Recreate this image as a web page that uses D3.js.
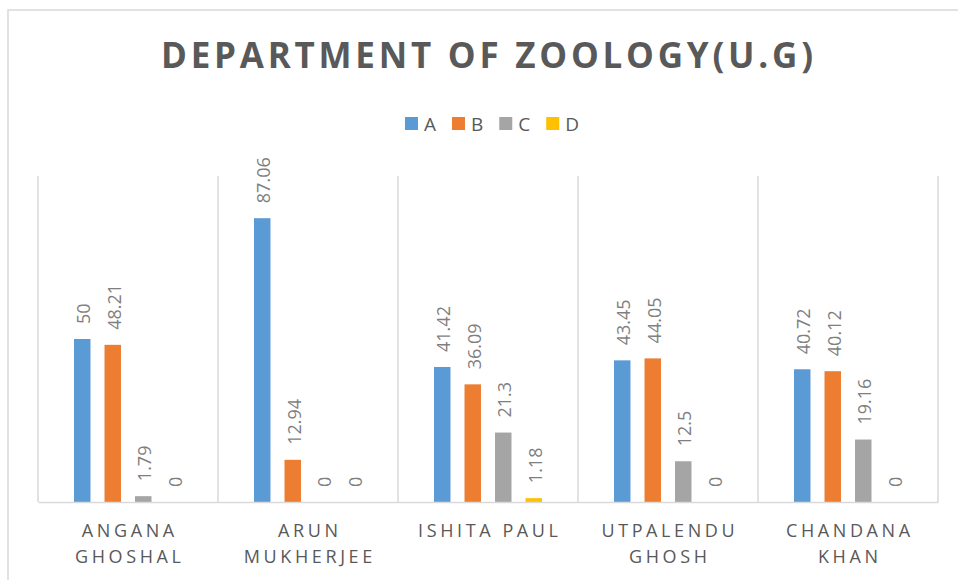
<!DOCTYPE html>
<html>
<head>
<meta charset="utf-8">
<script src="https://cdn.jsdelivr.net/npm/d3@7"></script>
<style>
  html, body { margin: 0; padding: 0; background: #ffffff; }
  svg { display: block; font-family: "Open Sans", "DejaVu Sans", sans-serif; }
</style>
</head>
<body>
<svg id="chart" width="958" height="580"></svg>
<script>
const title = "DEPARTMENT OF ZOOLOGY(U.G)";
const categories = ["ANGANA GHOSHAL", "ARUN MUKHERJEE", "ISHITA PAUL", "UTPALENDU GHOSH", "CHANDANA KHAN"];
const categoryLines = [["ANGANA", "GHOSHAL"], ["ARUN", "MUKHERJEE"], ["ISHITA PAUL"], ["UTPALENDU", "GHOSH"], ["CHANDANA", "KHAN"]];
const seriesNames = ["A", "B", "C", "D"];
const seriesA = [50, 87.06, 41.42, 43.45, 40.72];
const seriesB = [48.21, 12.94, 36.09, 44.05, 40.12];
const seriesC = [1.79, 0, 21.3, 12.5, 19.16];
const seriesD = [0, 0, 1.18, 0, 0];
const seriesColors = ["#5B9BD5", "#ED7D31", "#A5A5A5", "#FFC000"];
const yDomain = [0, 100];

const seriesValues = [seriesA, seriesB, seriesC, seriesD];

const svg = d3.select("#chart");
const W = 958, H = 580;
const plot = { left: 38, right: 938, top: 176, bottom: 502 };
const gridColor = "#d9d9d9";

// outer chart border
svg.append("rect")
  .attr("x", 8).attr("y", 10)
  .attr("width", 980).attr("height", 600)
  .attr("fill", "#fff")
  .attr("stroke", gridColor).attr("stroke-width", 1.5);

// title
svg.append("text")
  .attr("x", 487).attr("y", 68)
  .attr("text-anchor", "middle")
  .attr("font-size", 35).attr("font-weight", 700)
  .attr("fill", "#595959")
  .attr("textLength", 652).attr("lengthAdjust", "spacing")
  .text(title);

// scales
const x0 = d3.scaleBand().domain(categories).range([plot.left, plot.right]).paddingInner(0).paddingOuter(0);
const x1 = d3.scaleBand().domain(seriesNames).range([36, 144]).paddingInner(0.46).paddingOuter(0);
const y = d3.scaleLinear().domain(yDomain).range([plot.bottom, plot.top]);
const color = d3.scaleOrdinal().domain(seriesNames).range(seriesColors);

// vertical category gridlines
const bounds = categories.map(c => x0(c)).concat([x0(categories[categories.length - 1]) + x0.bandwidth()]);
svg.append("g").selectAll("line").data(bounds).join("line")
  .attr("x1", d => d).attr("x2", d => d)
  .attr("y1", y(yDomain[1])).attr("y2", y(0))
  .attr("stroke", gridColor).attr("stroke-width", 1.5);

// bars
const groups = svg.append("g").selectAll("g").data(categories).join("g")
  .attr("transform", c => `translate(${x0(c)},0)`);

groups.selectAll("rect")
  .data((c, ci) => seriesNames.map((s, si) => ({ s, v: seriesValues[si][ci] })))
  .join("rect")
  .attr("x", d => x1(d.s))
  .attr("width", x1.bandwidth())
  .attr("y", d => y(d.v))
  .attr("height", d => y(0) - y(d.v))
  .attr("fill", d => color(d.s));

// data labels
groups.selectAll("text")
  .data((c, ci) => seriesNames.map((s, si) => ({ s, v: seriesValues[si][ci] })))
  .join("text")
  .attr("transform", d => `translate(${x1(d.s) + x1.bandwidth() / 2},${y(d.v) - 15}) rotate(-90)`)
  .attr("dy", "0.45em")
  .attr("text-anchor", "start")
  .attr("font-size", 18)
  .attr("fill", "#7f7f7f")
  .text(d => String(d.v));

// category axis
const axisG = svg.append("g")
  .attr("transform", `translate(0,${plot.bottom})`)
  .call(d3.axisBottom(x0).tickSize(0).tickPadding(0));
axisG.select(".domain").attr("stroke", gridColor).attr("stroke-width", 1.5);
axisG.selectAll(".tick text").each(function (c) {
  const lines = categoryLines[categories.indexOf(c)];
  const t = d3.select(this);
  t.text(null)
    .attr("font-size", 18)
    .attr("font-family", "Open Sans, sans-serif")
    .attr("fill", "#595959")
    .attr("letter-spacing", 3.6)
    .attr("dy", null)
    .attr("y", 0)
    .attr("text-anchor", "middle");
  lines.forEach((ln, i) => {
    t.append("tspan").attr("x", 1.8).attr("y", 35 + i * 26).text(ln);
  });
});

// legend
const legend = svg.append("g");
let lx = 0;
seriesNames.forEach((s, i) => {
  const g = legend.append("g").attr("transform", `translate(${lx},0)`);
  g.append("rect").attr("x", 0).attr("y", -7).attr("width", 13).attr("height", 13).attr("fill", color(s));
  const t = g.append("text").attr("x", 19).attr("y", 6.5)
    .attr("font-size", 19).attr("fill", "#595959").text(s);
  const w = t.node().getComputedTextLength();
  lx += 19 + w + 16;
});
const totalW = lx - 16;
legend.attr("transform", `translate(${492 - totalW / 2},124)`);
</script>
</body>
</html>
